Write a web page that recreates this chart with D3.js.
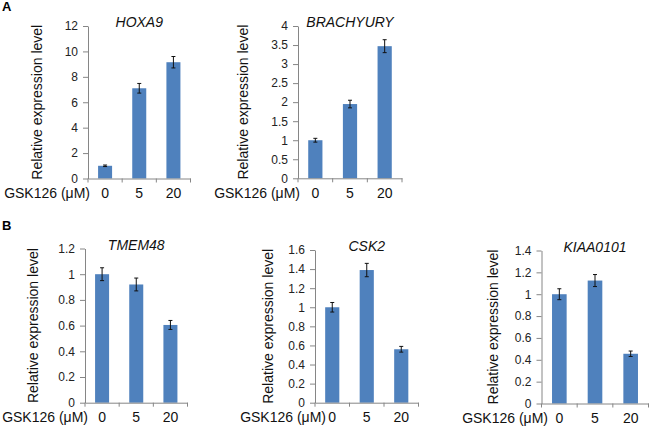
<!DOCTYPE html>
<html>
<head>
<meta charset="utf-8">
<script src="https://cdn.jsdelivr.net/npm/d3@7"></script>
<style>
  body { margin: 0; background: #fff; }
  svg { display: block; font-family: "Liberation Sans", Arial, sans-serif; }
</style>
</head>
<body>
<svg id="chart" width="650" height="430"></svg>
<script>
// ---- data ----
const categories = ["0", "5", "20"];
const genes = ["HOXA9", "BRACHYURY", "TMEM48", "CSK2", "KIAA0101"];
const hoxa9Values = [1.0, 7.1, 9.15];
const hoxa9Errors = [0.06, 0.38, 0.45];
const brachyuryValues = [1.0, 1.95, 3.47];
const brachyuryErrors = [0.05, 0.1, 0.17];
const tmem48Values = [1.0, 0.92, 0.605];
const tmem48Errors = [0.05, 0.05, 0.035];
const csk2Values = [1.0, 1.39, 0.56];
const csk2Errors = [0.05, 0.07, 0.03];
const kiaa0101Values = [1.0, 1.125, 0.455];
const kiaa0101Errors = [0.05, 0.055, 0.025];
const hoxa9Ticks = [0, 2, 4, 6, 8, 10, 12];
const brachyuryTicks = [0, 0.5, 1, 1.5, 2, 2.5, 3, 3.5, 4];
const tmem48Ticks = [0, 0.2, 0.4, 0.6, 0.8, 1, 1.2];
const csk2Ticks = [0, 0.2, 0.4, 0.6, 0.8, 1, 1.2, 1.4, 1.6];
const kiaa0101Ticks = [0, 0.2, 0.4, 0.6, 0.8, 1, 1.2, 1.4];
const yAxisTitle = "Relative expression level";
const xAxisTitle = "GSK126 (μM)";
const panelLetters = ["A", "B"];

// ---- layout (positions only) ----
const charts = [
  { gene: genes[0], values: hoxa9Values, errors: hoxa9Errors, ticks: hoxa9Ticks,
    x0: 88, x1: 190.5, yB: 178.5, yT: 26, ylabX: 42, xlabR: 90 },
  { gene: genes[1], values: brachyuryValues, errors: brachyuryErrors, ticks: brachyuryTicks,
    x0: 298, x1: 402, yB: 178.3, yT: 26, ylabX: 248, xlabR: 300 },
  { gene: genes[2], values: tmem48Values, errors: tmem48Errors, ticks: tmem48Ticks,
    x0: 85, x1: 187.5, yB: 402.7, yT: 248.5, ylabX: 38, xlabR: 88 },
  { gene: genes[3], values: csk2Values, errors: csk2Errors, ticks: csk2Ticks,
    x0: 315, x1: 418.5, yB: 402.7, yT: 250, ylabX: 273, xlabR: 326 },
  { gene: genes[4], values: kiaa0101Values, errors: kiaa0101Errors, ticks: kiaa0101Ticks,
    x0: 541.5, x1: 648.5, yB: 403.5, yT: 250.5, ylabX: 498, xlabR: 548 }
];

const svg = d3.select("#chart");
const barColor = "#4F81BD";
const axisColor = "#868686";

svg.append("text").attr("x", 2).attr("y", 11)
  .attr("font-size", 13).attr("font-weight", "bold").text(panelLetters[0]);
svg.append("text").attr("x", 2).attr("y", 230)
  .attr("font-size", 13).attr("font-weight", "bold").text(panelLetters[1]);

charts.forEach(c => {
  const g = svg.append("g");
  const x = d3.scaleBand().domain(categories).range([c.x0, c.x1]).paddingInner(0).paddingOuter(0);
  const yMax = c.ticks[c.ticks.length - 1];
  const y = d3.scaleLinear().domain([0, yMax]).range([c.yB, c.yT]);
  const bw = x.bandwidth() * 0.41;

  // bars
  g.selectAll("rect.bar").data(c.values).join("rect")
    .attr("class", "bar")
    .attr("x", (d, i) => x(categories[i]) + (x.bandwidth() - bw) / 2)
    .attr("y", d => y(d))
    .attr("width", bw)
    .attr("height", d => y(0) - y(d))
    .attr("fill", barColor);

  // error bars
  const eb = g.selectAll("g.err").data(c.values).join("g").attr("class", "err");
  const cx = (i) => x(categories[i]) + x.bandwidth() / 2;
  eb.append("line")
    .attr("x1", (d, i) => cx(i)).attr("x2", (d, i) => cx(i))
    .attr("y1", (d, i) => y(d + c.errors[i])).attr("y2", (d, i) => y(d - c.errors[i]))
    .attr("stroke", "#111").attr("stroke-width", 1);
  [1, -1].forEach(s => {
    eb.append("line")
      .attr("x1", (d, i) => cx(i) - 2).attr("x2", (d, i) => cx(i) + 2)
      .attr("y1", (d, i) => y(d + s * c.errors[i])).attr("y2", (d, i) => y(d + s * c.errors[i]))
      .attr("stroke", "#111").attr("stroke-width", 1);
  });

  // y axis
  const ya = g.append("g").attr("transform", `translate(${c.x0},0)`)
    .call(d3.axisLeft(y).tickValues(c.ticks).tickFormat(d3.format("~g"))
      .tickSize(5).tickSizeOuter(0).tickPadding(5));
  ya.select(".domain").attr("stroke", axisColor);
  ya.selectAll(".tick line").attr("stroke", axisColor);
  ya.selectAll(".tick text").attr("font-size", 12).attr("fill", "#222")
    .attr("font-family", "Liberation Sans, Arial, sans-serif");

  // x axis
  const xa = g.append("g").attr("transform", `translate(0,${c.yB})`)
    .call(d3.axisBottom(x).tickSize(0).tickSizeOuter(0).tickPadding(9.5));
  xa.select(".domain").attr("stroke", axisColor);
  xa.selectAll(".tick text").attr("font-size", 14).attr("fill", "#111")
    .attr("font-family", "Liberation Sans, Arial, sans-serif");
  // category boundary ticks
  const bounds = categories.map(cat => x(cat)).concat([c.x1]);
  g.selectAll("line.bt").data(bounds).join("line").attr("class", "bt")
    .attr("x1", d => d).attr("x2", d => d)
    .attr("y1", c.yB).attr("y2", c.yB + 4)
    .attr("stroke", axisColor);

  // x axis title
  g.append("text").attr("x", c.xlabR).attr("y", c.yB + 19.5)
    .attr("text-anchor", "end").attr("font-size", 14).attr("fill", "#111")
    .text(xAxisTitle);

  // y axis title
  g.append("text")
    .attr("transform", `translate(${c.ylabX},${(c.yB + c.yT) / 2}) rotate(-90)`)
    .attr("text-anchor", "middle").attr("font-size", 14).attr("fill", "#111")
    .text(yAxisTitle);

  // gene title
  g.append("text").attr("x", (c.x0 + c.x1) / 2).attr("y", c.yT + 1)
    .attr("text-anchor", "middle").attr("font-size", 14).attr("font-style", "italic")
    .attr("fill", "#111").text(c.gene);
});
</script>
</body>
</html>
